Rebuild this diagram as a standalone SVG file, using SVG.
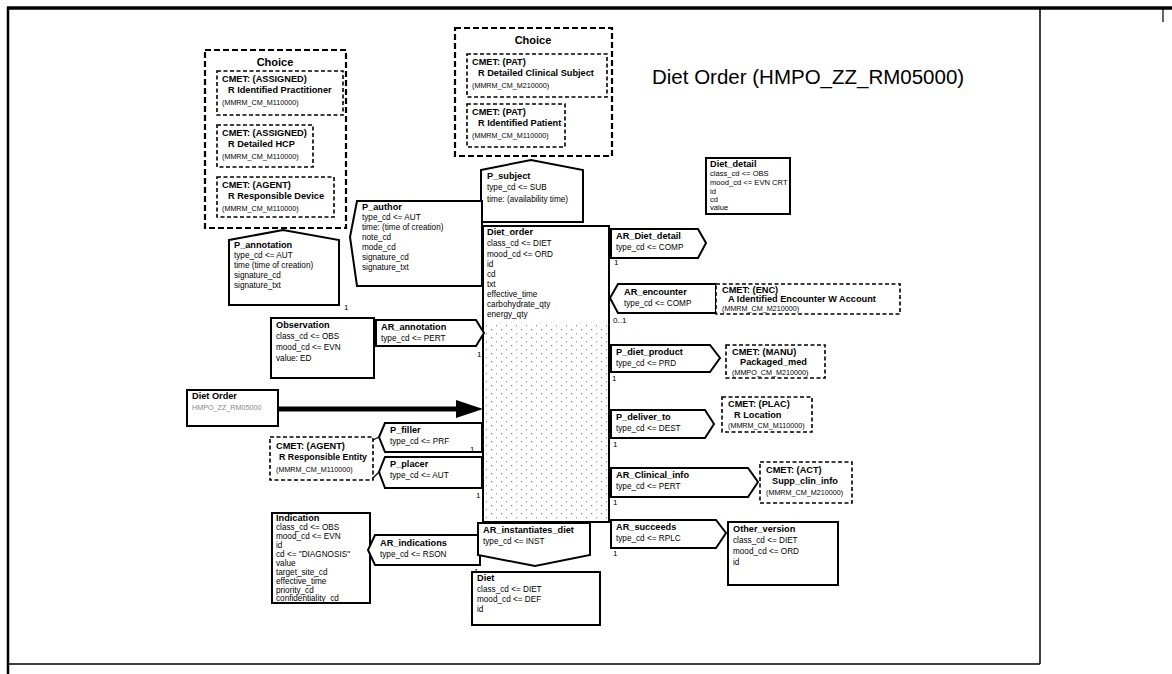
<svg xmlns="http://www.w3.org/2000/svg" width="1172" height="674" viewBox="0 0 1172 674">
<defs>
<style>
text{font-family:"Liberation Sans",Arial,sans-serif;fill:#000}
.h{font-size:9.2px;font-weight:bold}
.t{font-size:8.2px}
.s{font-size:7.2px}
.c{font-size:11px;font-weight:bold}
.ti{font-size:20.5px}
.cls{fill:#fff;stroke:#000;stroke-width:2}
.dash{fill:#fff;stroke:#000;stroke-width:1.6;stroke-dasharray:4 2.5}
.dash2{fill:none;stroke:#000;stroke-width:2.2;stroke-dasharray:6 3}
.frame{stroke:#000;fill:none}
.card{font-size:8px}
</style>
<pattern id="speck" width="10" height="8" patternUnits="userSpaceOnUse">
<rect x="1" y="1" width="1.2" height="1.2" fill="#777"/>
<rect x="6" y="5" width="1" height="1.4" fill="#999"/>
</pattern>
</defs>
<rect width="1172" height="674" fill="#fff"/>
<g id="frame">
<line class="frame" x1="7" y1="8" x2="1172" y2="8" stroke-width="3.5"/>
<line class="frame" x1="8" y1="7" x2="8" y2="674" stroke-width="2.5"/>
<line class="frame" x1="1040" y1="8" x2="1040" y2="664" stroke-width="1.5"/>
<line class="frame" x1="8" y1="664" x2="1040" y2="664" stroke-width="1.5"/>
<line class="frame" x1="1163" y1="8" x2="1163" y2="22" stroke-width="1.2"/>
</g>
<text class="ti" x="652" y="84">Diet Order (HMPO_ZZ_RM05000)</text>

<g id="choice_author">
<rect class="dash2" x="205" y="50" width="141" height="178"/>
<text class="c" x="275" y="66" text-anchor="middle">Choice</text>
<rect class="dash" x="217" y="71" width="126" height="44"/>
<text class="h" x="222" y="82">CMET: (ASSIGNED)</text>
<text class="h" x="228" y="93">R Identified Practitioner</text>
<text class="s" x="222" y="105">(MMRM_CM_M110000)</text>
<rect class="dash" x="217" y="125" width="96" height="42"/>
<text class="h" x="222" y="136">CMET: (ASSIGNED)</text>
<text class="h" x="228" y="147">R Detailed HCP</text>
<text class="s" x="222" y="159">(MMRM_CM_M110000)</text>
<rect class="dash" x="217" y="177" width="117" height="40"/>
<text class="h" x="222" y="188">CMET: (AGENT)</text>
<text class="h" x="228" y="199">R Responsible Device</text>
<text class="s" x="222" y="211">(MMRM_CM_M110000)</text>
</g>

<g id="choice_subject">
<rect class="dash2" x="455" y="28" width="157" height="128"/>
<text class="c" x="533" y="44" text-anchor="middle">Choice</text>
<rect class="dash" x="467" y="54" width="140" height="43"/>
<text class="h" x="472" y="65">CMET: (PAT)</text>
<text class="h" x="478" y="76">R Detailed Clinical Subject</text>
<text class="s" x="472" y="88">(MMRM_CM_M210000)</text>
<rect class="dash" x="467" y="104" width="98" height="43"/>
<text class="h" x="472" y="115">CMET: (PAT)</text>
<text class="h" x="478" y="126">R Identified Patient</text>
<text class="s" x="472" y="138">(MMRM_CM_M110000)</text>
</g>

<g id="connectors">
<line x1="278" y1="409" x2="458" y2="409" stroke="#000" stroke-width="5"/>
<polygon points="456,400 483,409 456,418" fill="#000"/>
<line x1="373" y1="440" x2="379" y2="437" stroke="#000" stroke-width="1.2"/>
<line x1="373" y1="478" x2="379" y2="472" stroke="#000" stroke-width="1.2"/>
</g>

<g id="P_subject">
<polygon class="cls" points="481,170 531,160 583,170 583,222 481,222"/>
<text class="h" x="487" y="179">P_subject</text>
<text class="t" x="487" y="190">type_cd &lt;= SUB</text>
<text class="t" x="487" y="202">time: (availability time)</text>
</g>

<g id="Diet_order">
<rect class="cls" x="483" y="226" width="126" height="296"/>
<rect x="485" y="322" width="122" height="198" fill="url(#speck)"/>
<text class="h" x="487" y="235">Diet_order</text>
<text class="t" x="487" y="246">class_cd &lt;= DIET</text>
<text class="t" x="487" y="257">mood_cd &lt;= ORD</text>
<text class="t" x="487" y="267">id</text>
<text class="t" x="487" y="277">cd</text>
<text class="t" x="487" y="287">txt</text>
<text class="t" x="487" y="297">effective_time</text>
<text class="t" x="487" y="307">carbohydrate_qty</text>
<text class="t" x="487" y="317">energy_qty</text>
</g>

<g id="P_author">
<polygon class="cls" points="482,201 357,201 350,237 357,286 482,286"/>
<text class="h" x="362" y="210">P_author</text>
<text class="t" x="362" y="220">type_cd &lt;= AUT</text>
<text class="t" x="362" y="230">time: (time of creation)</text>
<text class="t" x="362" y="240">note_cd</text>
<text class="t" x="362" y="250">mode_cd</text>
<text class="t" x="362" y="260">signature_cd</text>
<text class="t" x="362" y="270">signature_txt</text>
</g>

<g id="P_annotation">
<polygon class="cls" points="229,240 283,230 339,240 339,305 229,305"/>
<text class="h" x="234" y="248">P_annotation</text>
<text class="t" x="234" y="258">type_cd &lt;= AUT</text>
<text class="t" x="234" y="268">time (time of creation)</text>
<text class="t" x="234" y="278">signature_cd</text>
<text class="t" x="234" y="288">signature_txt</text>
<text class="card" x="344" y="310">1</text>
</g>

<g id="Observation">
<rect class="cls" x="271" y="318" width="103" height="60"/>
<text class="h" x="276" y="328">Observation</text>
<text class="t" x="276" y="339">class_cd &lt;= OBS</text>
<text class="t" x="276" y="350">mood_cd &lt;= EVN</text>
<text class="t" x="276" y="361">value: ED</text>
</g>

<g id="AR_annotation">
<polygon class="cls" points="376,320 476,320 484,333 476,346 376,346"/>
<text class="h" x="381" y="330">AR_annotation</text>
<text class="t" x="381" y="341">type_cd &lt;= PERT</text>
<text class="card" x="477" y="357">1</text>
</g>

<g id="entry_Diet_Order">
<rect class="cls" x="187" y="390" width="91" height="36" stroke-width="2.2"/>
<text class="h" x="192" y="399">Diet Order</text>
<text class="s" x="192" y="410" style="fill:#888">HMPO_ZZ_RM05000</text>
</g>

<g id="CMET_ResponsibleEntity">
<rect class="dash" x="270" y="437" width="103" height="43"/>
<text class="h" x="276" y="449">CMET: (AGENT)</text>
<text class="h" x="279" y="460" style="font-size:8.8px">R Responsible Entity</text>
<text class="s" x="276" y="472">(MMRM_CM_M110000)</text>
</g>

<g id="P_filler">
<polygon class="cls" points="482,423 385,423 379,437 385,452 482,452"/>
<text class="h" x="390" y="433">P_filler</text>
<text class="t" x="390" y="444">type_cd &lt;= PRF</text>
<text class="card" x="470" y="452">1</text>
</g>

<g id="P_placer">
<polygon class="cls" points="482,457 385,457 379,472 385,488 482,488"/>
<text class="h" x="390" y="467">P_placer</text>
<text class="t" x="390" y="478">type_cd &lt;= AUT</text>
<text class="card" x="476" y="498">1</text>
</g>

<g id="Indication">
<rect class="cls" x="272" y="513" width="98" height="90"/>
<text class="h" x="276" y="521">Indication</text>
<text class="t" x="276" y="530">class_cd &lt;= OBS</text>
<text class="t" x="276" y="539">mood_cd &lt;= EVN</text>
<text class="t" x="276" y="548">id</text>
<text class="t" x="276" y="557">cd &lt;= "DIAGNOSIS"</text>
<text class="t" x="276" y="566">value</text>
<text class="t" x="276" y="575">target_site_cd</text>
<text class="t" x="276" y="584">effective_time</text>
<text class="t" x="276" y="593">priority_cd</text>
<text class="t" x="276" y="601">confidentiality_cd</text>
</g>

<g id="AR_indications">
<polygon class="cls" points="480,535 375,535 368,550 375,565 480,565"/>
<text class="h" x="380" y="546">AR_indications</text>
<text class="t" x="380" y="557">type_cd &lt;= RSON</text>
<text class="card" x="474" y="574">1</text>
</g>

<g id="AR_instantiates_diet">
<polygon class="cls" points="478,523 590,523 590,555 535,566 478,555"/>
<text class="h" x="483" y="533">AR_instantiates_diet</text>
<text class="t" x="483" y="544">type_cd &lt;= INST</text>
</g>

<g id="Diet">
<rect class="cls" x="472" y="572" width="128" height="53"/>
<text class="h" x="477" y="581">Diet</text>
<text class="t" x="477" y="592">class_cd &lt;= DIET</text>
<text class="t" x="477" y="602">mood_cd &lt;= DEF</text>
<text class="t" x="477" y="612">id</text>
</g>

<g id="Diet_detail">
<rect class="cls" x="706" y="158" width="84" height="56"/>
<text class="h" x="710" y="167">Diet_detail</text>
<text class="t" x="710" y="176" style="font-size:7.6px">class_cd &lt;= OBS</text>
<text class="t" x="710" y="185" style="font-size:7.6px">mood_cd &lt;= EVN CRT</text>
<text class="t" x="710" y="194" style="font-size:7.6px">id</text>
<text class="t" x="710" y="202" style="font-size:7.6px">cd</text>
<text class="t" x="710" y="210" style="font-size:7.6px">value</text>
</g>

<g id="AR_Diet_detail">
<polygon class="cls" points="611,229 698,229 706,243 698,258 611,258"/>
<text class="h" x="616" y="239">AR_Diet_detail</text>
<text class="t" x="616" y="250">type_cd &lt;= COMP</text>
<text class="card" x="614" y="265">1</text>
</g>

<g id="AR_encounter">
<polygon class="cls" points="716,284 618,284 610,298 618,313 716,313"/>
<text class="h" x="624" y="295">AR_encounter</text>
<text class="t" x="624" y="306">type_cd &lt;= COMP</text>
<text class="card" x="613" y="323">0..1</text>
</g>

<g id="CMET_Encounter">
<rect class="dash" x="716" y="284" width="184" height="30" stroke-width="2"/>
<text class="h" x="722" y="293">CMET: (ENC)</text>
<text class="h" x="728" y="302">A Identified Encounter W Account</text>
<text class="s" x="722" y="311">(MMRM_CM_M210000)</text>
</g>

<g id="P_diet_product">
<polygon class="cls" points="611,345 710,345 720,358 710,372 611,372"/>
<text class="h" x="616" y="355">P_diet_product</text>
<text class="t" x="616" y="366">type_cd &lt;= PRD</text>
<text class="card" x="612" y="381">1</text>
</g>

<g id="CMET_Packaged_med">
<rect class="dash" x="726" y="345" width="99" height="33"/>
<text class="h" x="732" y="355">CMET: (MANU)</text>
<text class="h" x="740" y="365">Packaged_med</text>
<text class="s" x="732" y="375">(MMPO_CM_M210000)</text>
</g>

<g id="P_deliver_to">
<polygon class="cls" points="611,410 705,410 714,424 705,438 611,438"/>
<text class="h" x="616" y="420">P_deliver_to</text>
<text class="t" x="616" y="431">type_cd &lt;= DEST</text>
<text class="card" x="613" y="447">1</text>
</g>

<g id="CMET_Location">
<rect class="dash" x="722" y="397" width="90" height="35"/>
<text class="h" x="728" y="407">CMET: (PLAC)</text>
<text class="h" x="734" y="418">R Location</text>
<text class="s" x="728" y="428">(MMRM_CM_M110000)</text>
</g>

<g id="AR_clinical_info">
<polygon class="cls" points="611,468 748,468 758,482 748,497 611,497"/>
<text class="h" x="616" y="478">AR_Clinical_info</text>
<text class="t" x="616" y="489">type_cd &lt;= PERT</text>
<text class="card" x="613" y="505">1</text>
</g>

<g id="CMET_Supp_clin_info">
<rect class="dash" x="760" y="462" width="92" height="41" stroke-width="2.4"/>
<text class="h" x="766" y="473">CMET: (ACT)</text>
<text class="h" x="772" y="484">Supp_clin_info</text>
<text class="s" x="766" y="495">(MMRM_CM_M210000)</text>
</g>

<g id="AR_succeeds">
<polygon class="cls" points="611,520 716,520 726,533 716,548 611,548"/>
<text class="h" x="616" y="530">AR_succeeds</text>
<text class="t" x="616" y="541">type_cd &lt;= RPLC</text>
<text class="card" x="613" y="556">1</text>
</g>

<g id="Other_version">
<rect class="cls" x="728" y="522" width="110" height="63"/>
<text class="h" x="733" y="532">Other_version</text>
<text class="t" x="733" y="543">class_cd &lt;= DIET</text>
<text class="t" x="733" y="554">mood_cd &lt;= ORD</text>
<text class="t" x="733" y="565">id</text>
</g>
</svg>
